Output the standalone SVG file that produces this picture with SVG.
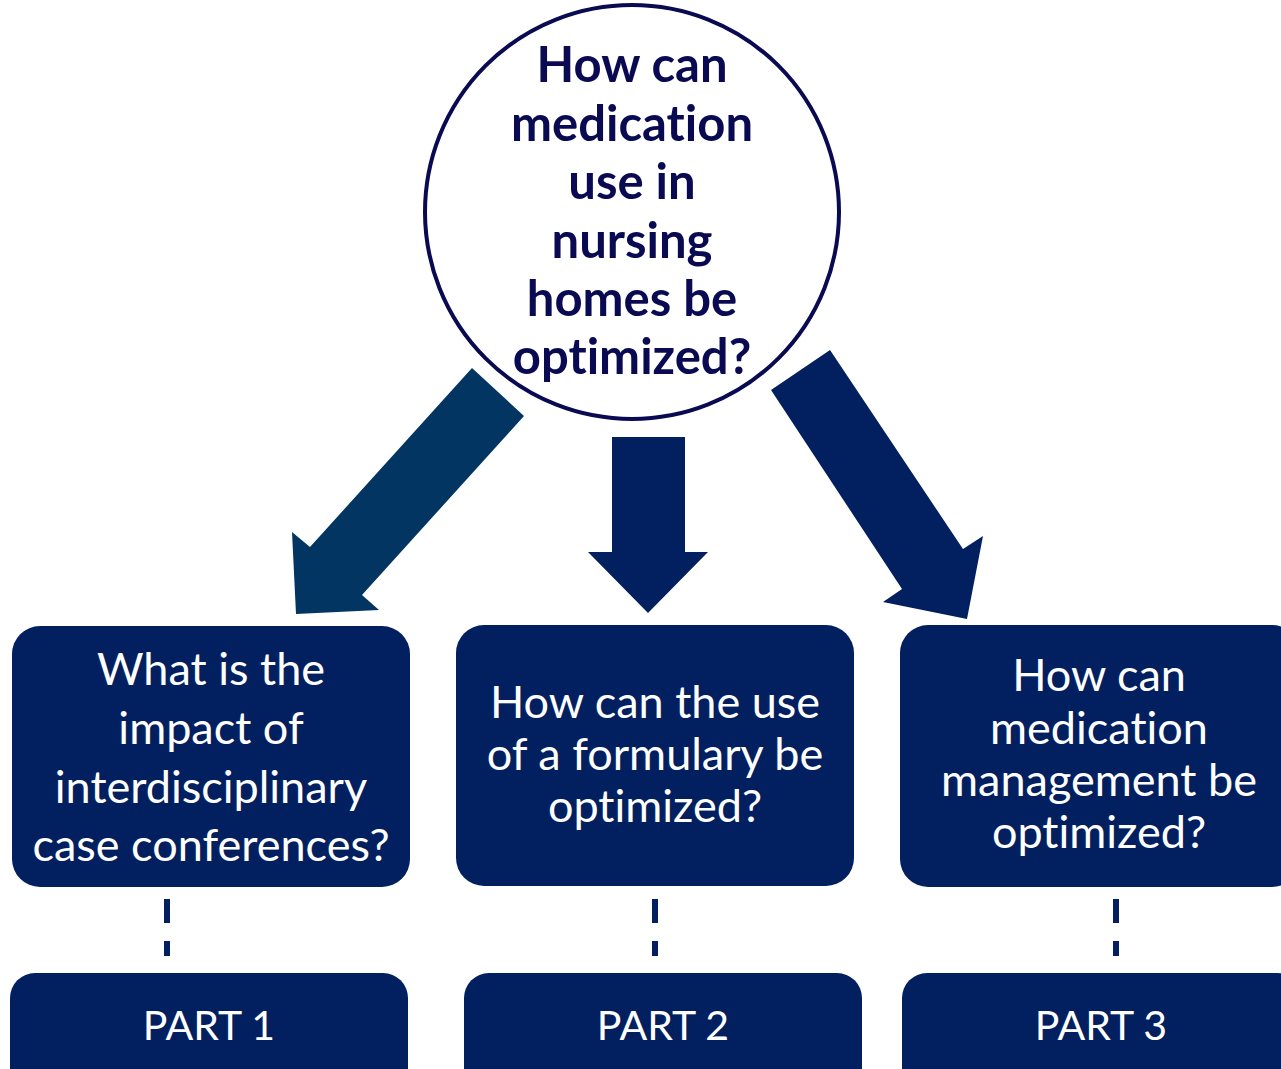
<svg xmlns="http://www.w3.org/2000/svg" width="1281" height="1069" viewBox="0 0 1281 1069">
<style>
text{font-variant-ligatures:none;font-feature-settings:"liga" 0,"clig" 0}
.box{fill:#022060}
.q{font-family:Lato,"Noto Sans","Liberation Sans",sans-serif;font-size:45px;fill:#ffffff;text-anchor:middle}
.part{font-family:Lato,"Noto Sans","Liberation Sans",sans-serif;font-size:41px;fill:#ffffff;text-anchor:middle}
.main{font-family:Lato,"Noto Sans","Liberation Sans",sans-serif;font-size:49px;font-weight:bold;fill:#0a0a52;text-anchor:middle}
.dash{stroke:#022060;stroke-width:6;stroke-dasharray:24 18;fill:none}
</style>
<rect width="1281" height="1069" fill="#ffffff"/>
<g id="connectors">
<polygon points="472,368 524,416 362,595 379,610 296,614 292,532 310,547" fill="#023562"/>
<polygon points="612,437 685,437 685,552 708,552 648,613 588,552 612,552" fill="#022060"/>
<polygon points="830,350 771,390 902,589 883,602 967,619 983,536 963,549" fill="#022060"/>
<line class="dash" x1="167" y1="899" x2="167" y2="956"/>
<line class="dash" x1="655" y1="899" x2="655" y2="956"/>
<line class="dash" x1="1116" y1="899" x2="1116" y2="956"/>
</g>
<g id="main">
<circle cx="632" cy="212" r="207" fill="#ffffff" stroke="#0a0a52" stroke-width="4"/>
<text class="main" x="632" y="82">How can</text>
<text class="main" x="632" y="141">medication</text>
<text class="main" x="632" y="199">use in</text>
<text class="main" x="632" y="258">nursing</text>
<text class="main" x="632" y="316">homes be</text>
<text class="main" x="632" y="374">optimized?</text>
</g>
<g id="q1">
<rect class="box" x="12" y="626" width="398" height="261" rx="28"/>
<text class="q" x="211" y="685">What is the</text>
<text class="q" x="211" y="744">impact of</text>
<text class="q" x="211" y="803">interdisciplinary</text>
<text class="q" x="211" y="861">case conferences?</text>
</g>
<g id="q2">
<rect class="box" x="456" y="625" width="398" height="261" rx="28"/>
<text class="q" x="655" y="718">How can the use</text>
<text class="q" x="655" y="770">of a formulary be</text>
<text class="q" x="655" y="822">optimized?</text>
</g>
<g id="q3">
<rect class="box" x="900" y="625" width="400" height="262" rx="28"/>
<text class="q" x="1099" y="691">How can</text>
<text class="q" x="1099" y="744">medication</text>
<text class="q" x="1099" y="796">management be</text>
<text class="q" x="1099" y="848">optimized?</text>
</g>
<g id="part1">
<rect class="box" x="10" y="973" width="398" height="130" rx="25"/>
<text class="part" x="209" y="1040">PART 1</text>
</g>
<g id="part2">
<rect class="box" x="464" y="973" width="398" height="130" rx="25"/>
<text class="part" x="663" y="1040">PART 2</text>
</g>
<g id="part3">
<rect class="box" x="902" y="973" width="400" height="130" rx="25"/>
<text class="part" x="1101" y="1040">PART 3</text>
</g>
</svg>
